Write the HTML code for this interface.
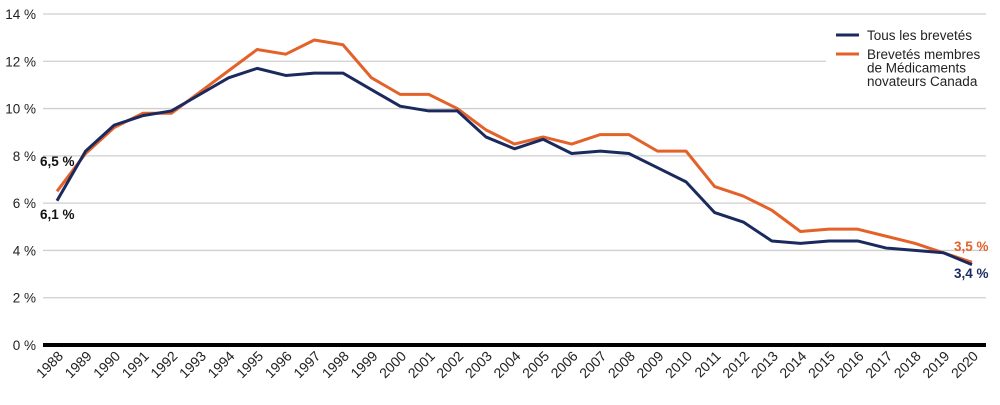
<!DOCTYPE html>
<html><head><meta charset="utf-8"><style>
body{margin:0;background:#fff;width:1000px;height:400px;overflow:hidden}
text{font-family:"Liberation Sans",sans-serif}
</style></head><body>
<svg id="chart" width="1000" height="400" xmlns="http://www.w3.org/2000/svg">
<g id="grid"></g>
<g id="yaxis"></g>
<g id="xaxis"></g>
<g id="series"></g>
<g>
<line x1="836" y1="35" x2="859" y2="35" stroke="#1b2a5e" stroke-width="3"/>
<text x="867" y="40" font-size="13.5" fill="#222">Tous les brevetés</text>
<line x1="836" y1="54" x2="859" y2="54" stroke="#e3622a" stroke-width="3"/>
<text font-size="13.5" fill="#222"><tspan x="867" y="59">Brevetés membres</tspan><tspan x="867" y="72.5">de Médicaments</tspan><tspan x="867" y="86">novateurs Canada</tspan></text>
</g>
<text x="40" y="219" font-size="13.5" font-weight="bold" fill="#111">6,1 %</text>
<text x="40" y="166" font-size="13.5" font-weight="bold" fill="#111">6,5 %</text>
<text x="954" y="251" font-size="13.5" font-weight="bold" fill="#e3622a">3,5 %</text>
<text x="954" y="278" font-size="13.5" font-weight="bold" fill="#1b2a5e">3,4 %</text>
</svg>
<script>
const years=[1988,1989,1990,1991,1992,1993,1994,1995,1996,1997,1998,1999,2000,2001,2002,2003,2004,2005,2006,2007,2008,2009,2010,2011,2012,2013,2014,2015,2016,2017,2018,2019,2020];
const allPatentees=[6.1,8.2,9.3,9.7,9.9,10.6,11.3,11.7,11.4,11.5,11.5,10.8,10.1,9.9,9.9,8.8,8.3,8.7,8.1,8.2,8.1,7.5,6.9,5.6,5.2,4.4,4.3,4.4,4.4,4.1,4.0,3.9,3.4];
const memberPatentees=[6.5,8.1,9.2,9.8,9.8,10.7,11.6,12.5,12.3,12.9,12.7,11.3,10.6,10.6,10.0,9.1,8.5,8.8,8.5,8.9,8.9,8.2,8.2,6.7,6.3,5.7,4.8,4.9,4.9,4.6,4.3,3.9,3.5];
const yTicks=[0,2,4,6,8,10,12,14];
const NS="http://www.w3.org/2000/svg";
const x=i=>57+i*(972-57)/(years.length-1);
const y=v=>345-v*(345-14)/14;
function mk(tag,attrs,parent){const e=document.createElementNS(NS,tag);for(const k in attrs)e.setAttribute(k,attrs[k]);parent.appendChild(e);return e;}
const grid=document.getElementById('grid'),ya=document.getElementById('yaxis'),xa=document.getElementById('xaxis'),ser=document.getElementById('series');
yTicks.forEach(t=>{
  if(t>0){const l=mk('line',{x1:43,x2:(t===12?826:986),y1:y(t),y2:y(t),stroke:'#cfcfcf','stroke-width':1.3},grid);
  
  }
  const tx=mk('text',{x:36,y:y(t)+5,'text-anchor':'end','font-size':13.5,fill:'#222'},ya);
  tx.textContent=t+' %';
  
  
});
const base=mk('line',{x1:43,x2:986,y1:y(0),y2:y(0),stroke:'#000','stroke-width':4},grid);


years.forEach((yr,i)=>{
  const tx=mk('text',{x:0,y:0,'text-anchor':'end','font-size':14,fill:'#222',transform:`translate(${x(i)+7},${357}) rotate(-45)`},xa);
  tx.textContent=yr;
  
  
});
function line(data,color,name){
  const p=mk('polyline',{points:data.map((v,i)=>x(i)+','+y(v)).join(' '),fill:'none',stroke:color,'stroke-width':3,'stroke-linejoin':'round'},ser);
  
  
}
line(memberPatentees,'#e3622a','line-member-patentees');
line(allPatentees,'#1b2a5e','line-all-patentees');
</script>
</body></html>
